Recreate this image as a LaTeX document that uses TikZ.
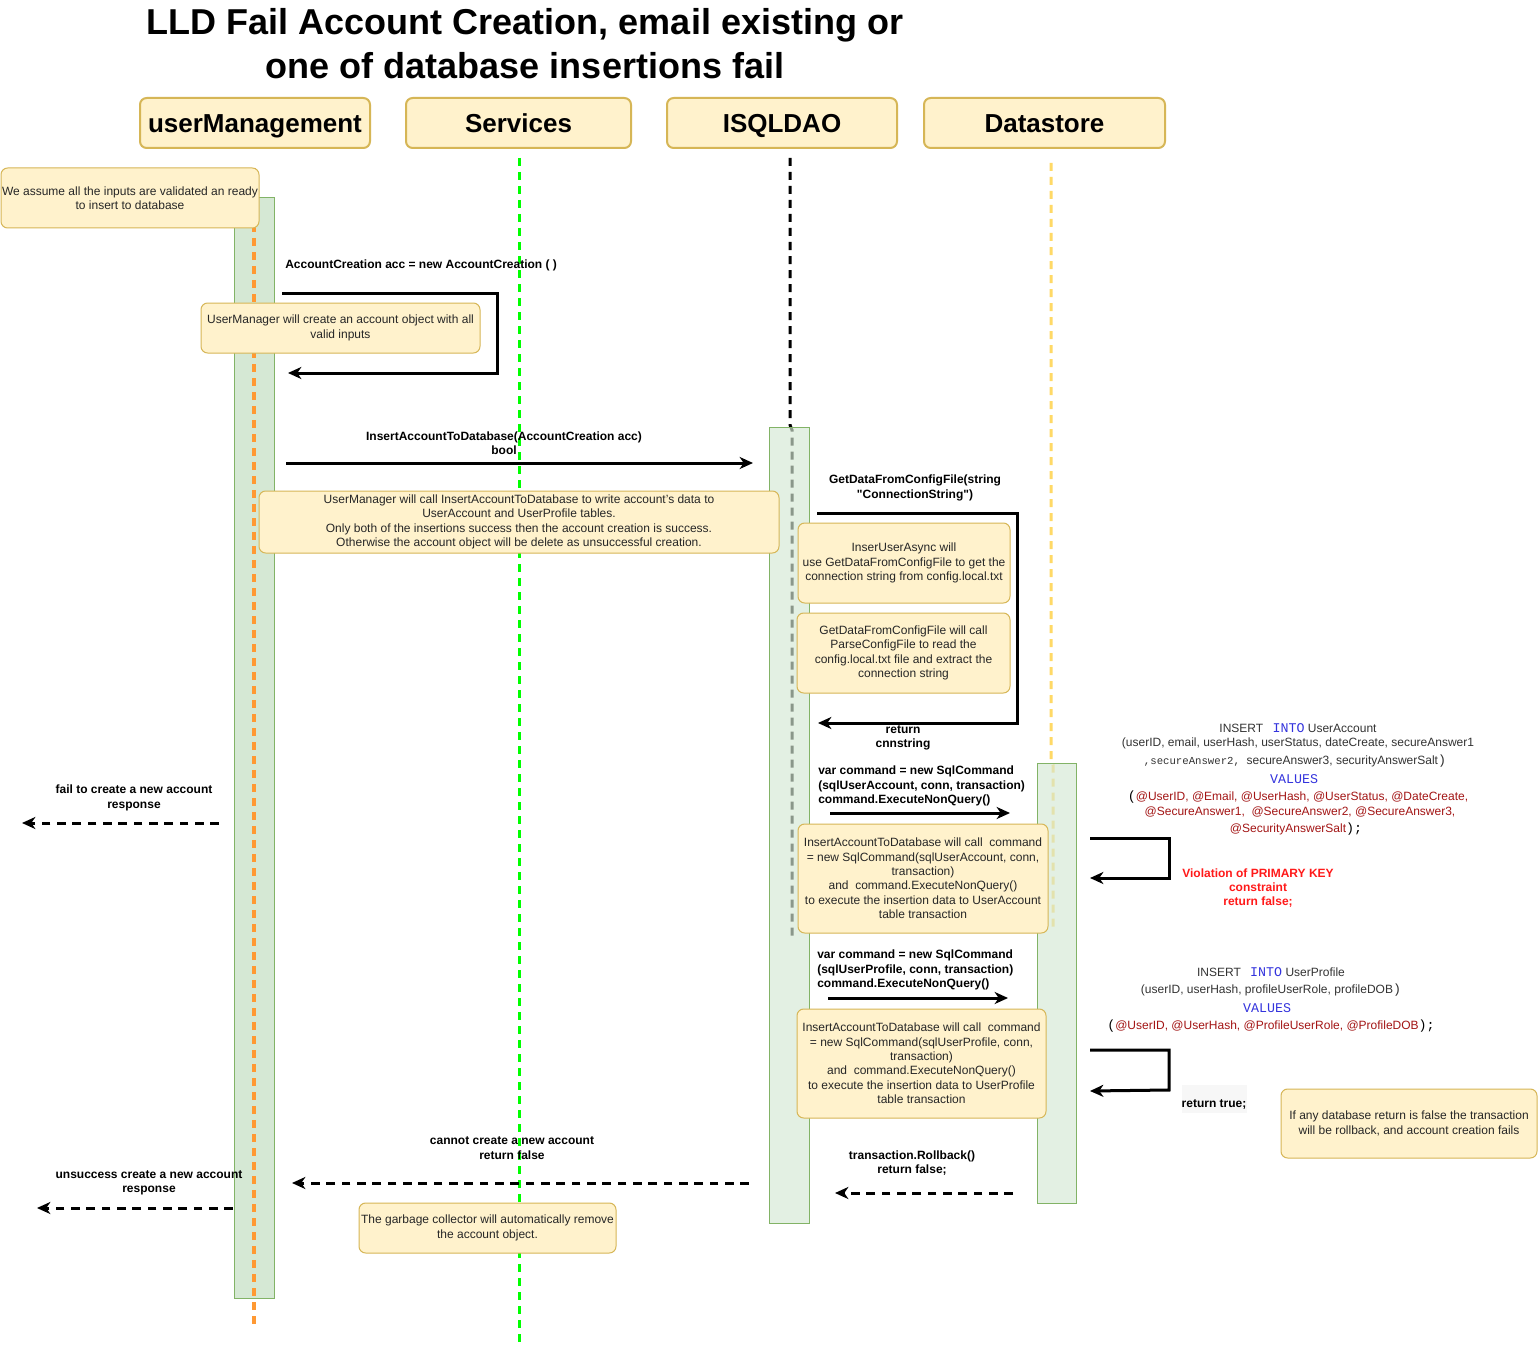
\documentclass[tikz,border=0pt]{standalone}
\usepackage{fontspec}
\setmainfont{Liberation Sans}
\newfontfamily\nqfont{Liberation Sans}
\newfontfamily\monof{Liberation Mono}
\usetikzlibrary{arrows.meta}
\definecolor{notefill}{HTML}{FFF2CC}
\definecolor{notedraw}{HTML}{D6B656}
\definecolor{actfill}{HTML}{D5E8D4}
\definecolor{actdraw}{HTML}{82B366}
\definecolor{lorange}{HTML}{FF9933}
\definecolor{lgreen}{HTML}{00FF00}
\definecolor{lyellow}{HTML}{FFD966}
\definecolor{sqlblue}{HTML}{3333DD}
\definecolor{sqlred}{HTML}{A31515}
\definecolor{sqlgray}{HTML}{333333}
\definecolor{violred}{HTML}{FF1A1A}
\definecolor{rtgray}{HTML}{F7F7F7}
\tikzset{
 notestyle/.style={draw=notedraw, fill=notefill, line width=0.75pt, rounded corners=5pt, align=center, font=\fontsize{9}{10.8}\selectfont, text=black!85, inner sep=0pt},
 headstyle/.style={draw=notedraw, fill=notefill, line width=1.5pt, rounded corners=5pt, font=\fontsize{19.5}{23}\selectfont\bfseries, inner sep=0pt, minimum height=37.5pt, text height=14pt, text depth=0pt},
 actbox/.style={draw=actdraw, fill=actfill, line width=0.75pt},
 actboxt/.style={draw=actdraw, fill=actfill, fill opacity=0.65, line width=0.75pt},
 lifeline/.style={line width=2.25pt, dash pattern=on 6pt off 4.5pt},
 msg/.style={line width=2.25pt, -{Stealth[length=10pt,width=9pt,inset=3pt]}},
 ret/.style={msg, dash pattern=on 6.5pt off 5pt},
 lbl/.style={font=\fontsize{9}{10.8}\selectfont\bfseries, align=center, inner sep=0pt},
 sql/.style={font=\fontsize{9}{10.8}\selectfont, text=sqlgray, inner sep=0pt},
}
\newcommand\pxnote[6]{\node[notestyle, minimum width={(#4-#2)*0.75pt}, minimum height={(#5-#3)*0.75pt}] (#1) at ({(#2+#4)/2},{(#3+#5)/2}) {#6};}
\newcommand\mfont{\monof\fontsize{10}{12}\selectfont}
\newcommand\sq{{\nqfont\bfseries"}}
\begin{document}
\begin{tikzpicture}[x=0.75pt,y=-0.75pt]
\useasboundingbox (0,0) rectangle (1539,1352);
\fill[white] (0,0) rectangle (1539,1352);

% title
\node[font=\fontsize{27}{33}\selectfont\bfseries, align=center, inner sep=0pt] (title) at (525,44) {LLD Fail Account Creation, email existing or\\one of database insertions fail};

% activation box userManagement
\draw[actbox] (234,198) rectangle (274,1298);

% lifelines
\coordinate (llA1) at (254,168); \coordinate (llA2) at (254,1328);
\coordinate (llB1) at (519,158); \coordinate (llB2) at (519,1348);
\coordinate (llC1) at (790,158); \coordinate (llC2) at (792,937);
\coordinate (llD1) at (1051,163); \coordinate (llD2) at (1053,928);
\draw[lifeline, lorange, line width=2.5pt] (llA1) -- (llA2);
\draw[lifeline, lgreen] (llB1) -- (llB2);
\draw[lifeline, black] (llC1) -- (790,425) -- (792,430) -- (llC2);
\draw[lifeline, lyellow] (llD1) -- (1051,760) -- (1053,765) -- (llD2);

% activation boxes (translucent)
\draw[actboxt] (769,427) rectangle (809,1223);
\draw[actboxt] (1037,763) rectangle (1076,1203);

% headers
\node[headstyle, minimum width=172.5pt] (hUM) at (255,123) {userManagement};
\node[headstyle, minimum width=168.75pt] (hSV) at (518.5,123) {Services};
\node[headstyle, minimum width=172.5pt] (hDAO) at (782,123) {ISQLDAO};
\node[headstyle, minimum width=180.75pt] (hDS) at (1044.5,123) {Datastore};

% notes
\pxnote{n1}{1}{168}{259}{228}{We assume all the inputs are validated an ready\\to insert to database}
\pxnote{n2}{201}{303}{480}{353}{UserManager will create an account object with all\\valid inputs}
\pxnote{n3}{259}{491}{779}{553}{UserManager will call InsertAccountToDatabase to write account's data to\\UserAccount and UserProfile tables.\\Only both of the insertions success then the account creation is success.\\Otherwise the account object will be delete as unsuccessful creation.}
\pxnote{n4}{798}{523}{1010}{603}{InserUserAsync will\\use GetDataFromConfigFile to get the\\connection string from config.local.txt}
\pxnote{n5}{797}{613}{1010}{693}{GetDataFromConfigFile will call\\ParseConfigFile to read the\\config.local.txt file and extract the\\connection string}
\pxnote{n6}{798}{824}{1048}{933}{InsertAccountToDatabase will call\ \ command\\= new SqlCommand(sqlUserAccount, conn,\\transaction)\\and\ \ command.ExecuteNonQuery()\\to execute the insertion data to UserAccount\\table transaction}
\pxnote{n7}{797}{1009}{1046}{1118}{InsertAccountToDatabase will call\ \ command\\= new SqlCommand(sqlUserProfile, conn,\\transaction)\\and\ \ command.ExecuteNonQuery()\\to execute the insertion data to UserProfile\\table transaction}
\pxnote{n8}{1281}{1089}{1537}{1158}{If any database return is false the transaction\\will be rollback, and account creation fails}
\pxnote{n9}{359}{1203}{616}{1253}{The garbage collector will automatically remove\\the account object.}

% message 1: self loop userManagement
\coordinate (m1a) at (282,293); \coordinate (m1b) at (497,293);
\coordinate (m1c) at (497,373); \coordinate (m1d) at (288,373);
\draw[msg] (m1a) -- (m1b) -- (m1c) -- (m1d);
\node[lbl, anchor=west] (l1) at (285,265) {AccountCreation acc = new AccountCreation ( )};

% message 2
\coordinate (m2a) at (286,463); \coordinate (m2b) at (753,463);
\draw[msg] (m2a) -- (m2b);
\node[lbl] (l2) at (504,443) {InsertAccountToDatabase(AccountCreation acc)\\bool};

% message 3: self loop ISQLDAO
\coordinate (m3a) at (817,513); \coordinate (m3b) at (1017,513);
\coordinate (m3c) at (1017,723); \coordinate (m3d) at (818,723);
\draw[msg] (m3a) -- (m3b) -- (m3c) -- (m3d);
\node[lbl] (l3) at (915,488) {GetDataFromConfigFile(string\\\sq ConnectionString\sq)};
\node[lbl] (l4) at (903,738) {return\\cnnstring};

% message 4
\coordinate (m4a) at (830,813); \coordinate (m4b) at (1010,813);
\draw[msg] (m4a) -- (m4b);
\node[lbl, align=left, anchor=west] (l5) at (818,786) {var command = new SqlCommand\\(sqlUserAccount, conn, transaction)\\command.ExecuteNonQuery()};

% datastore self loop 1
\coordinate (m5a) at (1090,838); \coordinate (m5b) at (1169,838);
\coordinate (m5c) at (1169,878); \coordinate (m5d) at (1090,878);
\draw[msg] (m5a) -- (m5b) -- (m5c) -- (m5d);
\node[lbl, text=violred] (l7) at (1258,888) {Violation of PRIMARY KEY\\constraint\\return false;};

% SQL 1
\node[sql] (s11) at (1298,728) {INSERT\hspace{7pt}{\mfont\color{sqlblue}INTO} UserAccount};
\node[sql] (s12) at (1298,743) {(userID, email, userHash, userStatus, dateCreate, secureAnswer1};
\node[sql] (s13) at (1295,761) {{\monof\fontsize{8}{9}\selectfont ,secureAnswer2,}\ \ secureAnswer3, securityAnswerSalt{\mfont )}};
\node[sql] (s14) at (1294,779) {\mfont\color{sqlblue}VALUES};
\node[sql] (s15) at (1298,797) {{\mfont\color{black}(}{\color{sqlred}@UserID, @Email, @UserHash, @UserStatus, @DateCreate,}};
\node[sql, text=sqlred] (s16) at (1300,812) {@SecureAnswer1,\ \ @SecureAnswer2, @SecureAnswer3,};
\node[sql] (s17) at (1296,829) {{\color{sqlred}@SecurityAnswerSalt}{\mfont\color{black});}};

% message 5
\coordinate (m6a) at (828,998); \coordinate (m6b) at (1008,998);
\draw[msg] (m6a) -- (m6b);
\node[lbl, align=left, anchor=west] (l6) at (817,970) {var command = new SqlCommand\\(sqlUserProfile, conn, transaction)\\command.ExecuteNonQuery()};

% SQL 2
\node[sql] (s21) at (1271,972) {INSERT\hspace{7pt}{\mfont\color{sqlblue}INTO} UserProfile};
\node[sql] (s22) at (1271,990) {(userID, userHash, profileUserRole, profileDOB{\mfont )}};
\node[sql] (s23) at (1267,1008) {\mfont\color{sqlblue}VALUES};
\node[sql] (s24) at (1271,1026) {{\mfont\color{black}(}{\color{sqlred}@UserID, @UserHash, @ProfileUserRole, @ProfileDOB}{\mfont\color{black});}};

% datastore self loop 2
\coordinate (m7a) at (1090,1050); \coordinate (m7b) at (1169,1050);
\coordinate (m7c) at (1169,1090); \coordinate (m7d) at (1090,1091);
\draw[msg] (m7a) -- (m7b) -- (m7c) -- (m7d);
\node[fill=rtgray, inner sep=0pt, minimum width=48.75pt, minimum height=21pt] (rtbg) at (1214.5,1099) {};
\node[lbl] (l8) at (1214,1105) {return true;};

% returns
\coordinate (r1a) at (219,823); \coordinate (r1b) at (22,823);
\draw[ret] (r1a) -- (r1b);
\node[lbl] (l12) at (134,798) {fail to create a new account\\response};

\coordinate (r2a) at (1013,1193); \coordinate (r2b) at (835,1193);
\draw[ret] (r2a) -- (r2b);
\node[lbl] (l9) at (912,1163) {transaction.Rollback()\\return false;};

\coordinate (r3a) at (749,1183); \coordinate (r3b) at (292,1183);
\draw[ret] (r3a) -- (r3b);
\node[lbl] (l10) at (512,1148) {cannot create a new account\\return false};

\coordinate (r4a) at (233,1208); \coordinate (r4b) at (37,1208);
\draw[ret] (r4a) -- (r4b);
\node[lbl] (l11) at (149,1183) {unsuccess create a new account\\response};
\end{tikzpicture}
\end{document}
